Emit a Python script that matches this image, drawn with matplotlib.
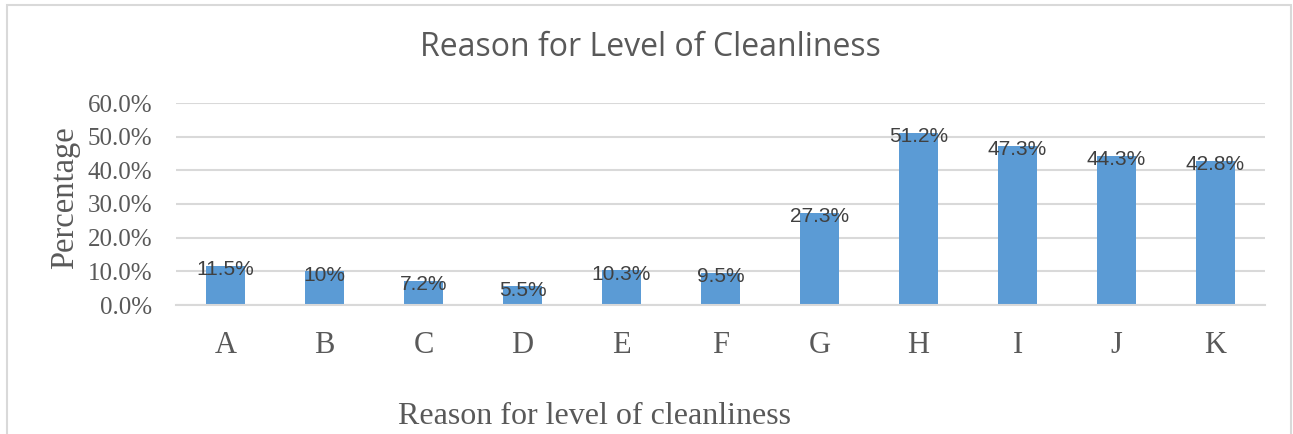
import matplotlib.pyplot as plt
from matplotlib.patches import Rectangle
from matplotlib.ticker import FuncFormatter

categories = ["A", "B", "C", "D", "E", "F", "G", "H", "I", "J", "K"]
values = [11.5, 10, 7.2, 5.5, 10.3, 9.5, 27.3, 51.2, 47.3, 44.3, 42.8]
labels = ["11.5%", "10%", "7.2%", "5.5%", "10.3%", "9.5%", "27.3%", "51.2%", "47.3%", "44.3%", "42.8%"]

W, H = 1293, 434
fig = plt.figure(figsize=(W / 100, H / 100), dpi=100)

# outer chart border (bottom edge is cut off in the reference)
fig.patches.append(Rectangle((6.5 / W, -0.1), (1291 - 6.5) / W, (434 - 4.5) / H + 0.1,
                             transform=fig.transFigure, fill=False,
                             edgecolor="#d9d9d9", linewidth=1.5))

ax = fig.add_axes([176 / W, 129 / H, (1265 - 176) / W, 202 / H])
x = range(len(categories))
ax.bar(x, values, width=0.4, color="#5b9bd5", zorder=2)

for i, v in enumerate(values):
    ax.text(i, v - 1.1, labels[i], ha="center", va="center", fontsize=15,
            family="Liberation Sans", color="#404040", zorder=3)

ax.set_xlim(-0.5, len(categories) - 0.5)
ax.set_ylim(0, 60)
ax.set_yticks(range(0, 61, 10))
ax.yaxis.set_major_formatter(FuncFormatter(lambda v, p: "%.1f%%" % v))
ax.set_xticks(list(x))
ax.set_xticklabels(categories)
ax.grid(axis="y", color="#d9d9d9", linewidth=1.5, zorder=0)
ax.set_axisbelow(True)
for s in ["top", "right", "left"]:
    ax.spines[s].set_visible(False)
ax.spines["bottom"].set_color("#d9d9d9")
ax.spines["bottom"].set_linewidth(1.5)
ax.tick_params(length=0)
for t in ax.get_yticklabels():
    t.set_family("Liberation Serif")
    t.set_fontsize(18)
    t.set_color("#595959")
for t in ax.get_xticklabels():
    t.set_family("Liberation Serif")
    t.set_fontsize(22)
    t.set_color("#595959")
ax.tick_params(axis="x", pad=19)
ax.tick_params(axis="y", pad=17)

fig.text(650 / W, 1 - 48 / H, "Reason for Level of Cleanliness", ha="center", va="center",
         fontsize=23, family="Open Sans", color="#595959")
fig.text(594 / W, 1 - 416 / H, "Reason for level of cleanliness", ha="center", va="center",
         fontsize=23, family="Liberation Serif", color="#595959")
fig.text(65 / W, 1 - 198 / H, "Percentage", ha="center", va="center", rotation=90,
         fontsize=23.5, family="Liberation Serif", color="#595959")

fig.savefig("out.png", dpi=100)
